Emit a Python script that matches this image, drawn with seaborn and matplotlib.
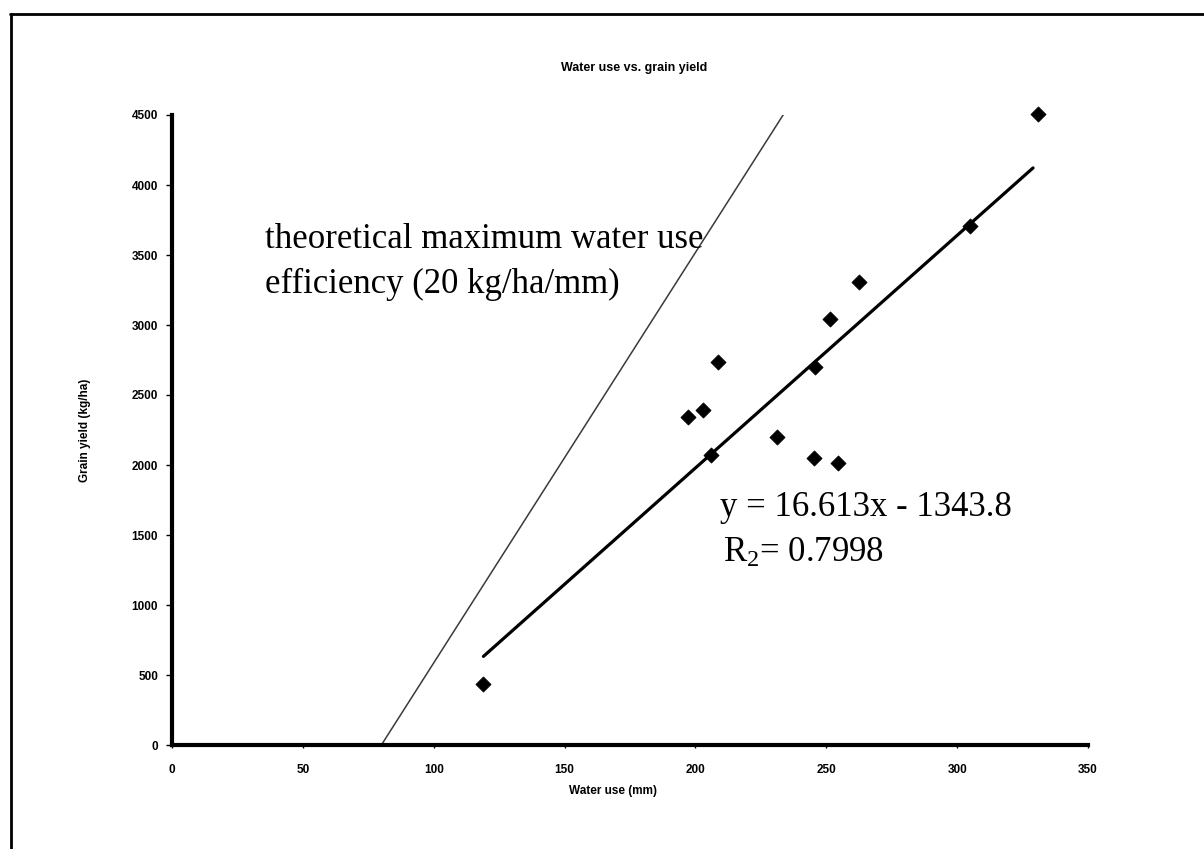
import matplotlib
matplotlib.use("Agg")
import matplotlib.pyplot as plt
import seaborn as sns
import pandas as pd
from matplotlib.lines import Line2D

# ---- data ----
water_use = [119, 197, 203, 208.6, 206, 231, 245.3, 254.4, 245.7, 251.4, 262.5, 305, 331]
grain_yield = [436, 2343, 2393, 2736, 2071, 2200, 2050, 2014, 2700, 3043, 3307, 3707, 4507]

reg_x = [119, 329]          # fitted line endpoints (y = 16.613x - 1343.8)
reg_y = [633, 4122]

theory_x = [80, 233.5]      # theoretical maximum WUE line
theory_y = [0, 4500]

x_ticks = [0, 50, 100, 150, 200, 250, 300, 350]
y_ticks = [0, 500, 1000, 1500, 2000, 2500, 3000, 3500, 4000, 4500]

title = "Water use vs. grain yield"
x_label = "Water use (mm)"
y_label = "Grain yield (kg/ha)"
theory_text = ["theoretical maximum water use", "efficiency (20 kg/ha/mm)"]
eq_text = "y = 16.613x - 1343.8"
r2_text = r"R$_{\mathregular{2}}$= 0.7998"

# ---- plotting ----
sns.set_theme(style="white")
plt.rcParams["font.family"] = ["Liberation Sans", "DejaVu Sans"]
plt.rcParams["text.color"] = "black"
plt.rcParams["axes.labelcolor"] = "black"
plt.rcParams["xtick.color"] = "black"
plt.rcParams["ytick.color"] = "black"
plt.rcParams["mathtext.fontset"] = "custom"
plt.rcParams["mathtext.rm"] = "Liberation Serif"
plt.rcParams["mathtext.it"] = "Liberation Serif:italic"

fig = plt.figure(figsize=(12.04, 8.49), dpi=100)
ax = fig.add_axes([172 / 1204, 1 - 745 / 849, (1088 - 172) / 1204, (745 - 115) / 849])

pts = pd.DataFrame({"x": water_use, "y": grain_yield})
reg = pd.DataFrame({"x": reg_x, "y": reg_y})
theo = pd.DataFrame({"x": theory_x, "y": theory_y})

sns.lineplot(data=theo, x="x", y="y", ax=ax, color="#3a3a3a", linewidth=1.1, zorder=2)
sns.lineplot(data=reg, x="x", y="y", ax=ax, color="black", linewidth=2.3, zorder=3)
sns.scatterplot(data=pts, x="x", y="y", ax=ax, marker="D", s=60, color="black",
                edgecolor="black", linewidth=0.5, zorder=4, clip_on=False)

ax.set_xlim(0, 350)
ax.set_ylim(0, 4500)
ax.set_xticks(x_ticks)
ax.set_yticks(y_ticks)
ax.set_xticklabels([str(t) for t in x_ticks], fontsize=8.5, fontweight="bold")
ax.set_yticklabels([str(t) for t in y_ticks], fontsize=8.5, fontweight="bold")
ax.tick_params(axis="y", direction="out", length=4, width=1, pad=6, colors="black", left=True)
ax.tick_params(axis="x", direction="out", length=2, width=1, pad=12, colors="black", bottom=True)

for s in ["top", "right"]:
    ax.spines[s].set_visible(False)
for s in ["left", "bottom"]:
    ax.spines[s].set_color("black")
    ax.spines[s].set_linewidth(3)

ax.set_xlabel(x_label, fontsize=8.5, fontweight="bold", color="black")
ax.set_ylabel(y_label, fontsize=8.5, fontweight="bold", color="black")
ax.xaxis.set_label_coords(0.481, -0.064)
ax.yaxis.set_label_coords(-0.088, 0.5)

ax.text(0.505, 1.075, title, transform=ax.transAxes, ha="center", va="center",
        fontsize=9, fontweight="bold", color="black")

serif = ["Liberation Serif", "DejaVu Serif"]
ax.text(35.5, 3610, theory_text[0], ha="left", va="center", fontsize=25, family=serif, color="black")
ax.text(35.5, 3290, theory_text[1], ha="left", va="center", fontsize=25, family=serif, color="black")
ax.text(209.5, 1700, eq_text, ha="left", va="center", fontsize=25, family=serif, color="black")
ax.text(210.5, 1370, r2_text, ha="left", va="center", fontsize=25, family=serif, color="black")

# page frame lines (top and left) as in the scanned reference
fig.add_artist(Line2D([10 / 1204, 1.0], [1 - 14 / 849, 1 - 14 / 849], color="black", linewidth=2))
fig.add_artist(Line2D([11 / 1204, 11 / 1204], [0.0, 1 - 14 / 849], color="black", linewidth=2))

fig.savefig("out.png", dpi=100, facecolor="white")
